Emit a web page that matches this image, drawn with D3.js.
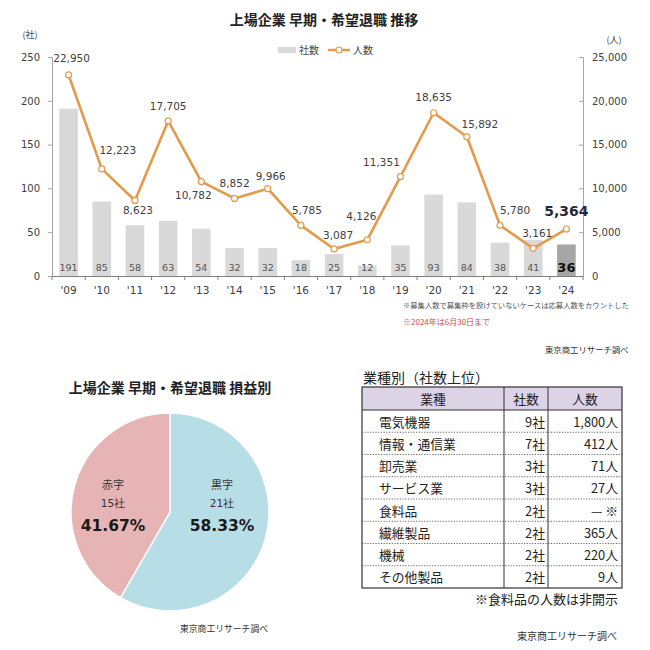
<!DOCTYPE html>
<html><head><meta charset="utf-8">
<script src="https://cdn.jsdelivr.net/npm/d3@7"></script>
<style>body{margin:0;background:#fff}svg{display:block}</style>
</head><body>
<svg id="c" width="650" height="650"></svg>
<script>
// ---- data ----
const years = ["'09","'10","'11","'12","'13","'14","'15","'16","'17","'18","'19","'20","'21","'22","'23","'24"];
const companies = [191,85,58,63,54,32,32,18,25,12,35,93,84,38,41,36];
const people = [22950,12223,8623,17705,10782,8852,9966,5785,3087,4126,11351,18635,15892,5780,3161,5364];
const leftTicks = [0,50,100,150,200,250];
const rightTicks = [0,5000,10000,15000,20000,25000];
const profitLabels = ["黒字","赤字"];
const profitCounts = [21,15];
const industries = ["電気機器","情報・通信業","卸売業","サービス業","食料品","繊維製品","機械","その他製品"];
const industryCompanies = ["9社","7社","3社","3社","2社","2社","2社","2社"];
const industryPeople = ["1,800人","412人","71人","27人","— ※","365人","220人","9人"];
const tableHeader = ["業種","社数","人数"];

// label offsets for line values (layout)
const lblOff = [[3,-17],[16,-19],[3,10],[0,-15],[-8,13],[0,-15],[3,-13],[6,-15],[4,-14],[-6,-24],[-19,-15],[0,-16],[13,-13],[15,-15],[4,-15],[0,-18]];

const svg = d3.select("#c");
const JP = "'Noto Sans CJK JP','Noto Sans',sans-serif";
const NUM = "'DejaVu Sans',Verdana,sans-serif";
const ORANGE = "#e39a4a";

// ---- top chart ----
const x = d3.scaleBand().domain(years).range([52,583]).paddingInner(0.44).paddingOuter(0.22);
const yL = d3.scaleLinear().domain([0,250]).range([276,57]);
const yR = d3.scaleLinear().domain([0,25000]).range([276,57]);

svg.append("text").attr("x",324).attr("y",25).attr("text-anchor","middle")
  .attr("font-family",JP).attr("font-weight","bold").attr("font-size",14).attr("fill","#222")
  .text("上場企業 早期・希望退職 推移");

// legend
svg.append("rect").attr("x",278).attr("y",47).attr("width",18).attr("height",6).attr("fill","#d9d9d9");
svg.append("text").attr("x",299).attr("y",54).attr("font-family",JP).attr("font-size",10).attr("fill","#444").text("社数");
svg.append("line").attr("x1",328).attr("x2",350).attr("y1",50).attr("y2",50).attr("stroke",ORANGE).attr("stroke-width",2.5);
svg.append("circle").attr("cx",339).attr("cy",50).attr("r",3).attr("fill","#fff").attr("stroke",ORANGE).attr("stroke-width",1.2);
svg.append("text").attr("x",353).attr("y",54).attr("font-family",JP).attr("font-size",10).attr("fill","#444").text("人数");

svg.append("text").attr("x",30).attr("y",38).attr("text-anchor","middle").attr("font-family",JP).attr("font-size",9).attr("fill","#444").text("(社)");
svg.append("text").attr("x",614).attr("y",43).attr("text-anchor","middle").attr("font-family",JP).attr("font-size",9).attr("fill","#444").text("(人)");

// left axis
const axL = svg.append("g").attr("transform","translate(52,0)")
  .call(d3.axisLeft(yL).tickValues(leftTicks).tickSize(4).tickPadding(8));
axL.select(".domain").attr("stroke","#a6a6a6");
axL.selectAll(".tick line").attr("stroke","#a6a6a6");
axL.selectAll("text").attr("font-family",NUM).attr("font-size",10).attr("fill","#404040");

// right axis
const axR = svg.append("g").attr("transform","translate(583,0)")
  .call(d3.axisRight(yR).tickValues(rightTicks).tickSize(-4).tickPadding(9).tickFormat(d3.format(",")));
axR.select(".domain").attr("stroke","#a6a6a6");
axR.selectAll(".tick line").attr("stroke","#a6a6a6");
axR.selectAll("text").attr("font-family",NUM).attr("font-size",10).attr("fill","#404040");

// bars
svg.append("g").selectAll("rect").data(companies).join("rect")
  .attr("x",(d,i)=>x(years[i])).attr("width",x.bandwidth())
  .attr("y",d=>yL(d)).attr("height",d=>yL(0)-yL(d))
  .attr("fill",(d,i)=>i===companies.length-1?"#a6a6a6":"#d9d9d9");
svg.append("g").selectAll("text").data(companies).join("text")
  .attr("x",(d,i)=>x(years[i])+x.bandwidth()/2).attr("y",(d,i)=>i===companies.length-1?272:271)
  .attr("text-anchor","middle").attr("font-family",NUM)
  .attr("font-size",(d,i)=>i===companies.length-1?13:9.5)
  .attr("font-weight",(d,i)=>i===companies.length-1?"bold":"normal")
  .attr("fill",(d,i)=>i===companies.length-1?"#111":"#555").text(d=>d);

// x axis
const axX = svg.append("g").attr("transform","translate(0,276)")
  .call(d3.axisBottom(x).tickSize(0).tickPadding(11));
axX.select(".domain").attr("stroke","#7f7f7f");
axX.selectAll("text").attr("font-family",NUM).attr("font-size",10.5).attr("fill","#404040");
svg.append("g").selectAll("line").data(d3.range(years.length+1)).join("line")
  .attr("x1",i=>52+x.step()*i).attr("x2",i=>52+x.step()*i).attr("y1",276).attr("y2",280)
  .attr("stroke","#7f7f7f");

// line
const cx = i => x(years[i])+x.bandwidth()/2;
svg.append("path").datum(people).attr("fill","none").attr("stroke",ORANGE).attr("stroke-width",2.6)
  .attr("stroke-linejoin","round")
  .attr("d",d3.line().x((d,i)=>cx(i)).y(d=>yR(d)));
svg.append("g").selectAll("circle").data(people).join("circle")
  .attr("cx",(d,i)=>cx(i)).attr("cy",d=>yR(d)).attr("r",3)
  .attr("fill","#fff").attr("stroke",ORANGE).attr("stroke-width",1.2);
svg.append("g").selectAll("text").data(people).join("text")
  .attr("x",(d,i)=>cx(i)+lblOff[i][0]).attr("y",(d,i)=>yR(d)+lblOff[i][1])
  .attr("dominant-baseline","central").attr("text-anchor","middle").attr("font-family",NUM)
  .attr("font-size",(d,i)=>i===people.length-1?14:10.5)
  .attr("font-weight",(d,i)=>i===people.length-1?"bold":"normal")
  .attr("fill",(d,i)=>i===people.length-1?"#1f2a3a":"#404040")
  .text(d=>d3.format(",")(d));

// notes
svg.append("text").attr("x",403).attr("y",308).attr("font-family",JP).attr("font-size",7.3).attr("fill","#555")
  .text("※募集人数で募集枠を設けていないケースは応募人数をカウントした");
svg.append("text").attr("x",403).attr("y",325).attr("font-family",JP).attr("font-size",8).attr("fill","#d04a4a")
  .text("※2024年は6月30日まで");
svg.append("text").attr("x",545).attr("y",353).attr("font-family",JP).attr("font-size",8.4).attr("fill","#333")
  .text("東京商工リサーチ調べ");

// ---- pie ----
svg.append("text").attr("x",170).attr("y",393).attr("text-anchor","middle")
  .attr("font-family",JP).attr("font-weight","bold").attr("font-size",14).attr("fill","#222")
  .text("上場企業 早期・希望退職 損益別");
const pieColors = ["#b7dde6","#e6b4b5"];
const total = d3.sum(profitCounts);
const arcs = d3.pie().sort(null)(profitCounts);
const pg = svg.append("g").attr("transform","translate(170,512)");
pg.selectAll("path").data(arcs).join("path")
  .attr("d",d3.arc().innerRadius(0).outerRadius(99))
  .attr("fill",(d,i)=>pieColors[i]).attr("stroke","#fff").attr("stroke-width",1.5);
const lblX = [52,-57];
profitLabels.forEach((lab,i)=>{
  const g = pg.append("g").attr("transform",`translate(${lblX[i]},0)`).attr("text-anchor","middle");
  g.append("text").attr("y",-23).attr("font-family",JP).attr("font-size",11).attr("fill","#333").text(lab);
  g.append("text").attr("y",-5).attr("font-family",NUM).attr("font-size",10.5).attr("fill","#333")
    .text(profitCounts[i]+"社");
  g.append("text").attr("y",19).attr("font-family",NUM).attr("font-weight","bold").attr("font-size",15.5).attr("fill","#1a1a1a")
    .text((profitCounts[i]/total*100).toFixed(2)+"%");
});
svg.append("text").attr("x",180).attr("y",632).attr("font-family",JP).attr("font-size",8.8).attr("fill","#333")
  .text("東京商工リサーチ調べ");

// ---- table ----
svg.append("text").attr("x",363).attr("y",383).attr("font-family",JP).attr("font-size",14).attr("fill","#222")
  .text("業種別（社数上位）");
const tL=362, tR=622, tT=387, hH=23, cA=504, cB=548;
const rowY = d3.scaleBand().domain(d3.range(industries.length)).range([tT+hH,588]);
const tg = svg.append("g");
tg.append("rect").attr("x",tL).attr("y",tT).attr("width",tR-tL).attr("height",hH).attr("fill","#dcd3e7");
tg.selectAll("line.r").data(d3.range(1,industries.length)).join("line")
  .attr("x1",tL).attr("x2",tR).attr("y1",i=>rowY(i)).attr("y2",i=>rowY(i))
  .attr("stroke","#555").attr("stroke-dasharray","1.2,1.5").attr("stroke-width",0.9);
tg.append("line").attr("x1",tL).attr("x2",tR).attr("y1",tT+hH).attr("y2",tT+hH).attr("stroke","#333").attr("stroke-width",1.2);
[cA,cB].forEach(cxv=>tg.append("line").attr("x1",cxv).attr("x2",cxv).attr("y1",tT).attr("y2",588).attr("stroke","#333").attr("stroke-width",1));
tg.append("rect").attr("x",tL).attr("y",tT).attr("width",tR-tL).attr("height",588-tT).attr("fill","none").attr("stroke","#333").attr("stroke-width",1.2);
const hx=[(tL+cA)/2,(cA+cB)/2,(cB+tR)/2];
tableHeader.forEach((h,i)=>tg.append("text").attr("x",hx[i]).attr("y",tT+hH/2).attr("dominant-baseline","central")
  .attr("text-anchor","middle").attr("font-family",JP).attr("font-size",12.8).attr("fill","#222").text(h));
industries.forEach((n,i)=>{
  const yy = rowY(i)+rowY.bandwidth()/2;
  tg.append("text").attr("x",379).attr("y",yy).attr("dominant-baseline","central").attr("font-family",JP).attr("font-size",12.8).attr("fill","#222").text(n);
  tg.append("text").attr("x",545).attr("y",yy).attr("dominant-baseline","central").attr("text-anchor","end").attr("font-family",JP).attr("font-size",12.8).attr("fill","#222").text(industryCompanies[i]);
  tg.append("text").attr("x",618).attr("y",yy).attr("dominant-baseline","central").attr("text-anchor","end").attr("font-family",JP).attr("font-size",12.8).attr("fill","#222").text(industryPeople[i]);
});
svg.append("text").attr("x",618).attr("y",604).attr("text-anchor","end").attr("font-family",JP).attr("font-size",13).attr("fill","#222")
  .text("※食料品の人数は非開示");
svg.append("text").attr("x",617).attr("y",640).attr("text-anchor","end").attr("font-family",JP).attr("font-size",10).attr("fill","#333")
  .text("東京商工リサーチ調べ");
</script>
</body></html>
